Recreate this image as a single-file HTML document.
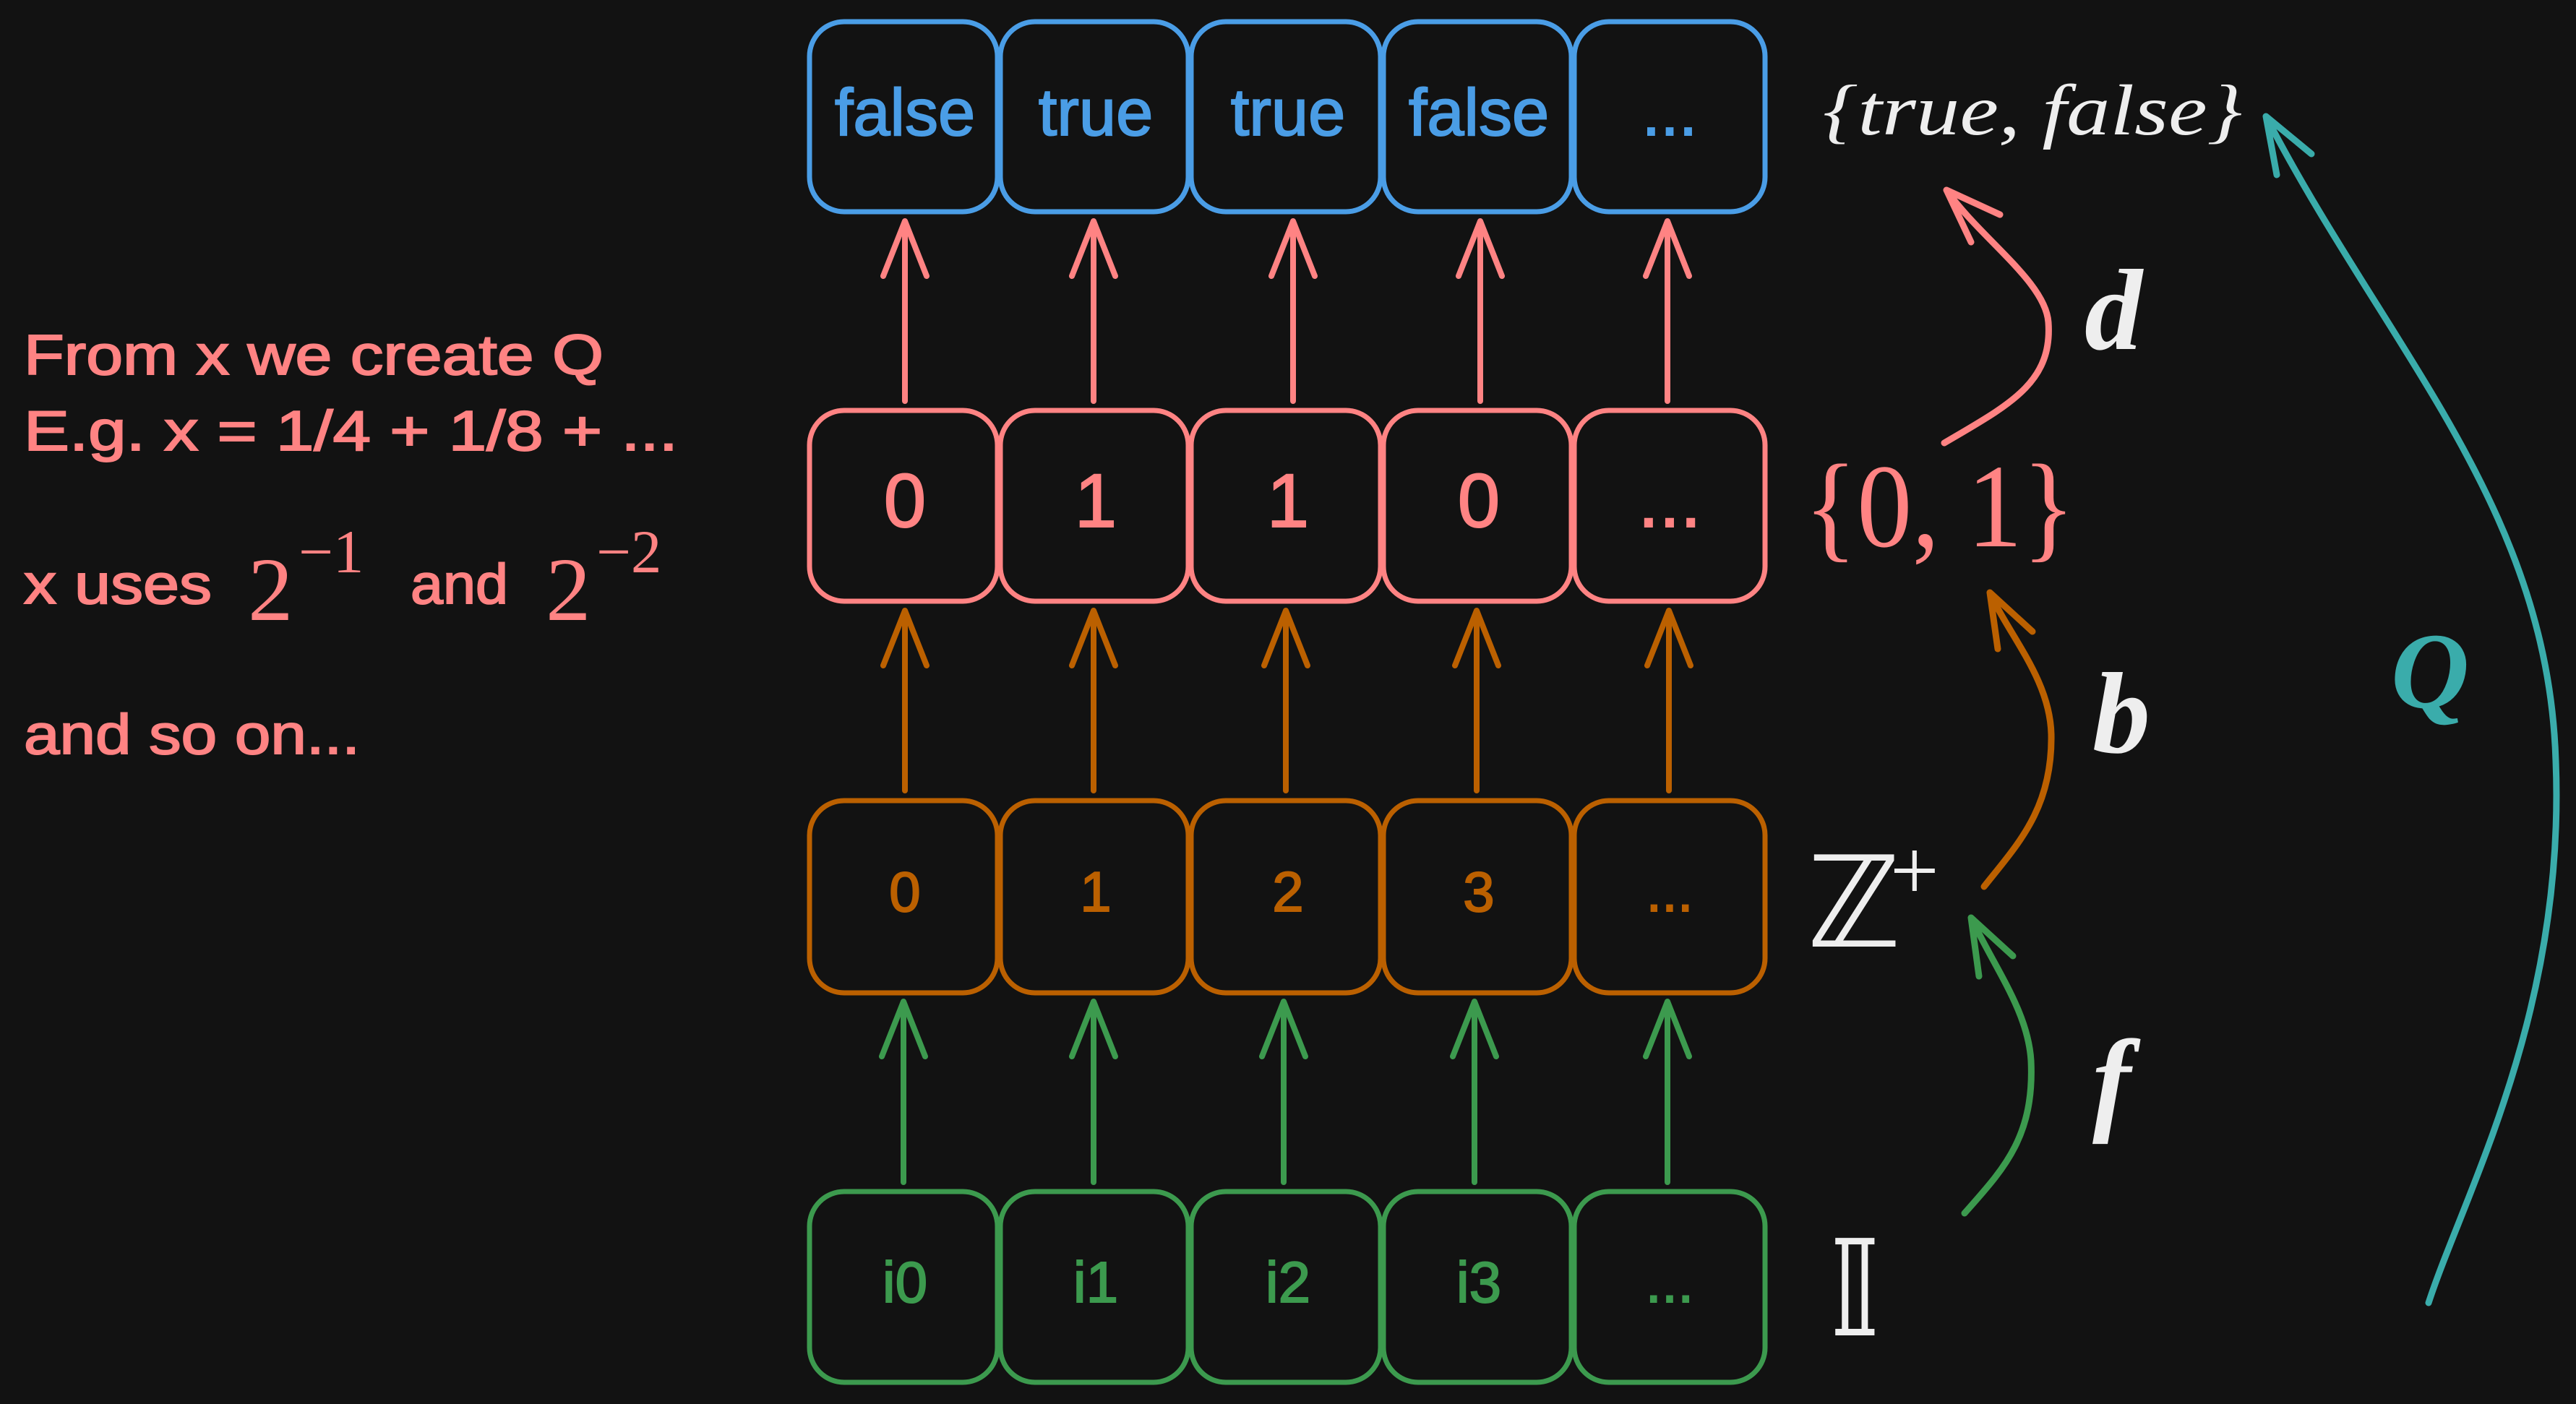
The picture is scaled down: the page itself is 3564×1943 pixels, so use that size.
<!DOCTYPE html>
<html><head><meta charset="utf-8"><style>
html,body{margin:0;padding:0;background:#121212;}
svg{display:block;}
.hand{font-family:"Liberation Sans",sans-serif;}
.math{font-family:"Liberation Serif",serif;}
</style></head><body>
<svg width="3564" height="1943" viewBox="0 0 3564 1943" xmlns="http://www.w3.org/2000/svg">
<rect width="3564" height="1943" fill="#121212"/>
<g fill="none" stroke-width="7" stroke-linecap="round" stroke-linejoin="round">
  <g stroke="#4a9de6">
    <rect x="1120" y="30" width="260" height="263" rx="48"/>
    <rect x="1384" y="30" width="260" height="263" rx="48"/>
    <rect x="1648" y="30" width="262" height="263" rx="48"/>
    <rect x="1914" y="30" width="260" height="263" rx="48"/>
    <rect x="2178" y="30" width="264" height="263" rx="48"/>
  </g>
  <g stroke="#ff8383">
    <rect x="1120" y="568" width="260" height="264" rx="48"/>
    <rect x="1384" y="568" width="260" height="264" rx="48"/>
    <rect x="1648" y="568" width="262" height="264" rx="48"/>
    <rect x="1914" y="568" width="260" height="264" rx="48"/>
    <rect x="2178" y="568" width="264" height="264" rx="48"/>
  </g>
  <g stroke="#bb6000">
    <rect x="1120" y="1108" width="260" height="266" rx="48"/>
    <rect x="1384" y="1108" width="260" height="266" rx="48"/>
    <rect x="1648" y="1108" width="262" height="266" rx="48"/>
    <rect x="1914" y="1108" width="260" height="266" rx="48"/>
    <rect x="2178" y="1108" width="264" height="266" rx="48"/>
  </g>
  <g stroke="#3c9a4e">
    <rect x="1120" y="1649" width="260" height="264" rx="48"/>
    <rect x="1384" y="1649" width="260" height="264" rx="48"/>
    <rect x="1648" y="1649" width="262" height="264" rx="48"/>
    <rect x="1914" y="1649" width="260" height="264" rx="48"/>
    <rect x="2178" y="1649" width="264" height="264" rx="48"/>
  </g>
  <g stroke="#ff8383" stroke-width="8">
    <path d="M1252 555V306M1222 382L1252 306L1282 382"/>
    <path d="M1513 555V306M1483 382L1513 306L1543 382"/>
    <path d="M1789 555V306M1759 382L1789 306L1819 382"/>
    <path d="M2048 555V306M2018 382L2048 306L2078 382"/>
    <path d="M2307 555V306M2277 382L2307 306L2337 382"/>
  </g>
  <g stroke="#bb6000" stroke-width="8">
    <path d="M1252 1094V845M1222 921L1252 845L1282 921"/>
    <path d="M1513 1094V845M1483 921L1513 845L1543 921"/>
    <path d="M1779 1094V845M1749 921L1779 845L1809 921"/>
    <path d="M2043 1094V845M2013 921L2043 845L2073 921"/>
    <path d="M2309 1094V845M2279 921L2309 845L2339 921"/>
  </g>
  <g stroke="#3c9a4e" stroke-width="8">
    <path d="M1250 1636V1386M1220 1462L1250 1386L1280 1462"/>
    <path d="M1513 1636V1386M1483 1462L1513 1386L1543 1462"/>
    <path d="M1776 1636V1386M1746 1462L1776 1386L1806 1462"/>
    <path d="M2040 1636V1386M2010 1462L2040 1386L2070 1462"/>
    <path d="M2307 1636V1386M2277 1462L2307 1386L2337 1462"/>
  </g>
  <path stroke="#ff8383" stroke-width="9" d="M2690 613C2780 560 2840 530 2834 446C2830 390 2740 330 2693 263M2767 297L2693 263L2727 335"/>
  <path stroke="#bb6000" stroke-width="9" d="M2745 1227C2790 1170 2840 1120 2838 1016C2836 940 2780 880 2753 820M2812 874L2753 820L2764 898"/>
  <path stroke="#3c9a4e" stroke-width="9" d="M2718 1679C2770 1620 2815 1575 2810 1468C2806 1400 2760 1340 2727 1270M2785 1323L2727 1270L2738 1351"/>
  <path stroke="#3aacab" stroke-width="9" d="M3360 1803C3410 1650 3550 1400 3536 1053C3525 700 3300 480 3135 161M3198 213L3135 161L3150 242"/>
</g>
<g class="hand" text-anchor="middle" stroke-width="2">
  <g fill="#4a9de6" stroke="#4a9de6" font-size="92">
    <text x="1252" y="187">false</text>
    <text x="1516" y="187">true</text>
    <text x="1782" y="187">true</text>
    <text x="2046" y="187">false</text>
    <text x="2310" y="187">...</text>
  </g>
  <g fill="#ff8383" stroke="#ff8383" font-size="105">
    <text x="1252" y="729">0</text>
    <text x="1516" y="729">1</text>
    <text x="1782" y="729">1</text>
    <text x="2046" y="729">0</text>
    <text x="2310" y="729">...</text>
  </g>
  <g fill="#bb6000" stroke="#bb6000" font-size="78">
    <text x="1252" y="1261">0</text>
    <text x="1516" y="1261">1</text>
    <text x="1782" y="1261">2</text>
    <text x="2046" y="1261">3</text>
    <text x="2310" y="1261">...</text>
  </g>
  <g fill="#3c9a4e" stroke="#3c9a4e" font-size="80">
    <text x="1252" y="1802">i0</text>
    <text x="1516" y="1802">i1</text>
    <text x="1782" y="1802">i2</text>
    <text x="2046" y="1802">i3</text>
    <text x="2310" y="1802">...</text>
  </g>
</g>
<g class="hand" fill="#ff8383" stroke="#ff8383" stroke-width="2" font-size="78">
  <text x="33" y="518" textLength="802" lengthAdjust="spacingAndGlyphs">From x we create Q</text>
  <text x="33" y="623" textLength="905" lengthAdjust="spacingAndGlyphs">E.g. x = 1/4 + 1/8 + ...</text>
  <text x="33" y="835" textLength="260" lengthAdjust="spacingAndGlyphs">x uses</text>
  <text x="568" y="835" textLength="135" lengthAdjust="spacingAndGlyphs">and</text>
  <text x="33" y="1043" textLength="465" lengthAdjust="spacingAndGlyphs">and so on...</text>
</g>
<g class="math" fill="#ff8383">
  <text x="343" y="858" font-size="125">2</text>
  <text x="413" y="792" font-size="85">−1</text>
  <text x="755" y="858" font-size="125">2</text>
  <text x="825" y="792" font-size="85">−2</text>
</g>
<g class="math" fill="#eeeeee">
  <text x="2522" y="186" font-size="100" font-style="italic" textLength="580" lengthAdjust="spacingAndGlyphs">{true, false}</text>
  <text x="2884" y="483" font-size="160" font-style="italic" font-weight="bold">d</text>
  <text x="2895" y="1041" font-size="160" font-style="italic" font-weight="bold">b</text>
  <text x="2895" y="1549" font-size="160" font-style="italic" font-weight="bold">f</text>
  <text x="2500" y="1310" font-size="175">ℤ</text>
  <text x="2615" y="1245" font-size="120">+</text>
  <text x="2530" y="1848" font-size="185">𝕀</text>
</g>
<text class="math" x="2496" y="756" fill="#ff8383" font-size="165" textLength="375" lengthAdjust="spacingAndGlyphs">{0, 1}</text>
<text class="math" x="3308" y="979" fill="#3aacab" font-size="150" font-style="italic" font-weight="bold">Q</text>
</svg>
</body></html>
